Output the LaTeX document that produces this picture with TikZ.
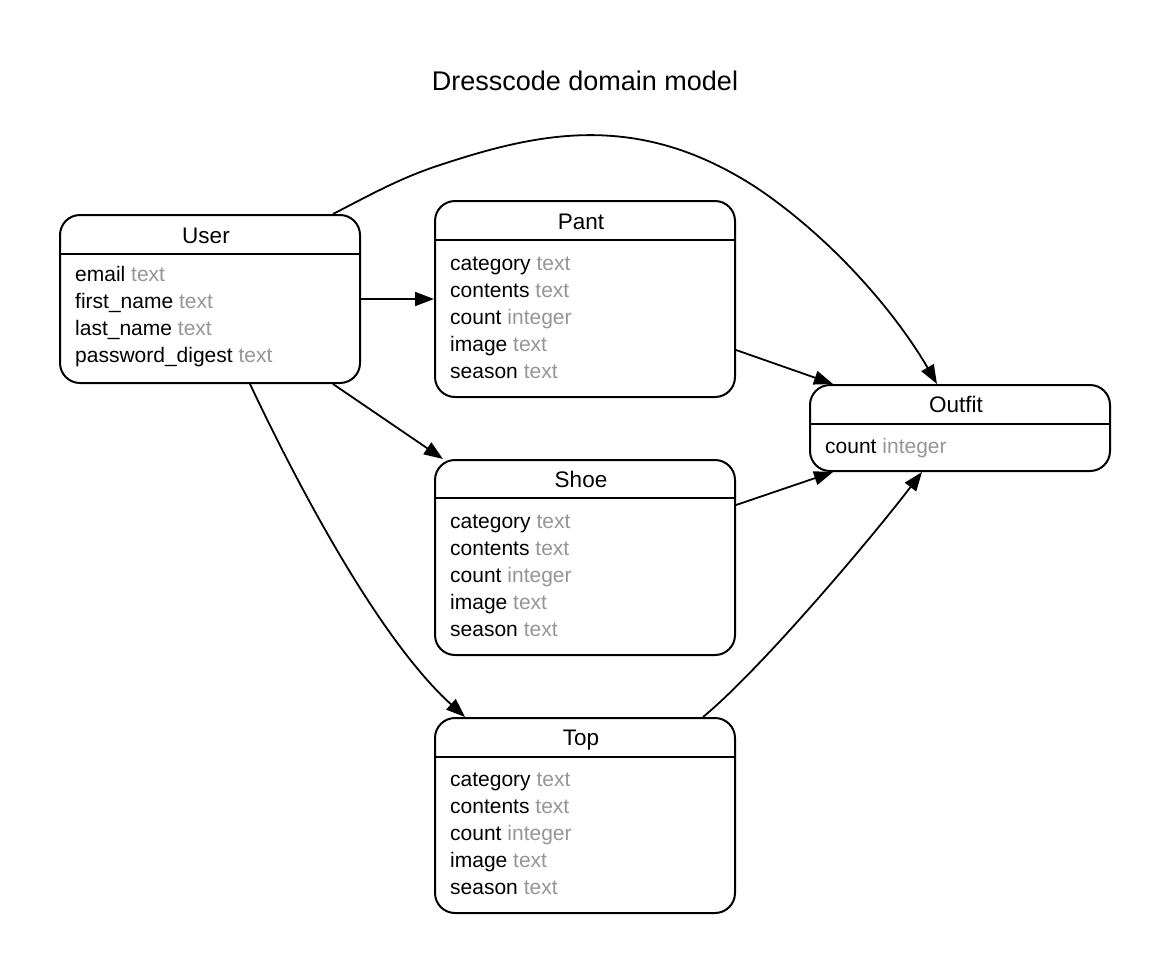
\documentclass[tikz,border=0pt]{standalone}
\usepackage{fontspec}
\setmainfont{Liberation Sans}
\usetikzlibrary{arrows.meta,calc}
\definecolor{attrgray}{RGB}{150,150,150}
\tikzset{
  tbl/.style={draw=black, line width=2pt, rounded corners=20pt, inner sep=0pt, fill=white},
  divider/.style={draw=black, line width=2pt},
  hdr/.style={anchor=base, inner sep=0pt, font=\fontsize{22.5}{26}\selectfont},
  attr/.style={anchor=base west, inner sep=0pt, font=\fontsize{21}{25}\selectfont},
  ttl/.style={anchor=base, inner sep=0pt, font=\fontsize{27}{31}\selectfont},
  rel/.style={draw=black, line width=1.8pt, -{Triangle[length=19pt,width=14pt]}},
}
\newcommand{\ty}[1]{\textcolor{attrgray}{#1}}
\begin{document}
\begin{tikzpicture}[x=1pt,y=-1pt]
\useasboundingbox (0,0) rectangle (1170,975);
\node[ttl] (title) at (585,90) {Dresscode domain model};

% User
\node[tbl, minimum width=300pt, minimum height=168pt] (user) at (210,299) {};
\draw[divider] (60,254) -- (360,254);
\node[hdr] (userh) at (206,243) {User};
\node[attr] (u1) at (75,281) {email \ty{text}};
\node[attr] (u2) at (75,308) {first\_name \ty{text}};
\node[attr] (u3) at (75,335) {last\_name \ty{text}};
\node[attr] (u4) at (75,362) {password\_digest \ty{text}};

% Pant
\node[tbl, minimum width=300pt, minimum height=196pt] (pant) at (585,299) {};
\draw[divider] (435,240) -- (735,240);
\node[hdr] (panth) at (581,229) {Pant};
\node[attr] (p1) at (450,270) {category \ty{text}};
\node[attr] (p2) at (450,297) {contents \ty{text}};
\node[attr] (p3) at (450,324) {count \ty{integer}};
\node[attr] (p4) at (450,351) {image \ty{text}};
\node[attr] (p5) at (450,378) {season \ty{text}};

% Shoe
\node[tbl, minimum width=300pt, minimum height=195pt] (shoe) at (585,557.5) {};
\draw[divider] (435,498) -- (735,498);
\node[hdr] (shoeh) at (581,487) {Shoe};
\node[attr] (s1) at (450,528) {category \ty{text}};
\node[attr] (s2) at (450,555) {contents \ty{text}};
\node[attr] (s3) at (450,582) {count \ty{integer}};
\node[attr] (s4) at (450,609) {image \ty{text}};
\node[attr] (s5) at (450,636) {season \ty{text}};

% Top
\node[tbl, minimum width=300pt, minimum height=195pt] (top) at (585,815.5) {};
\draw[divider] (435,757) -- (735,757);
\node[hdr] (toph) at (581,745) {Top};
\node[attr] (t1) at (450,786) {category \ty{text}};
\node[attr] (t2) at (450,813) {contents \ty{text}};
\node[attr] (t3) at (450,840) {count \ty{integer}};
\node[attr] (t4) at (450,867) {image \ty{text}};
\node[attr] (t5) at (450,894) {season \ty{text}};

% Outfit
\node[tbl, minimum width=300pt, minimum height=86pt] (outfit) at (960,428) {};
\draw[divider] (810,424) -- (1110,424);
\node[hdr] (outfith) at (956,412) {Outfit};
\node[attr] (o1) at (825,453) {count \ty{integer}};

% relations
\draw[rel] ([xshift=123pt]user.north) .. controls (370,195) and (400,178) .. (440,165)
  .. controls (540,132) and (640,110) .. (760,190)
  .. controls (840,245) and (900,320) .. ([xshift=-23pt]outfit.north);
\draw[rel] (user.east) -- (pant.west);
\draw[rel] ([xshift=123pt]user.south) -- ([xshift=-142pt]shoe.north);
\draw[rel] ([xshift=40pt]user.south) .. controls (300,490) and (380,640) .. ([xshift=-120pt]top.north);
\draw[rel] ([yshift=-51pt]pant.east) -- ([xshift=-127pt]outfit.north);
\draw[rel] ([yshift=52.5pt]shoe.east) -- ([xshift=-127pt]outfit.south);
\draw[rel] ([xshift=118pt]top.north) .. controls (760,670) and (870,540) .. ([xshift=-38pt]outfit.south);
\end{tikzpicture}
\end{document}
